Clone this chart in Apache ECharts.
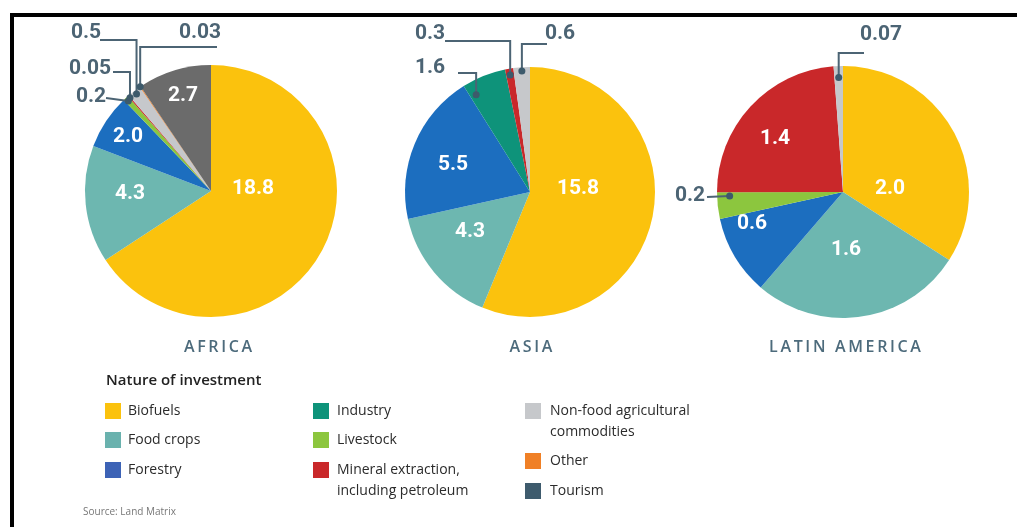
<!DOCTYPE html>
<html>
<head>
<meta charset="utf-8">
<script src="https://cdn.jsdelivr.net/npm/echarts@6/dist/echarts.min.js"></script>
<style>
html,body{margin:0;padding:0;background:#fff;}
#chart{width:1017px;height:527px;}
</style>
</head>
<body>
<div id="chart"></div>
<script>
// ---------------- DATA ----------------
const categories = ['Biofuels', 'Food crops', 'Forestry', 'Industry', 'Livestock',
  'Mineral extraction,\nincluding petroleum', 'Non-food agricultural\ncommodities', 'Other', 'Tourism'];
const regions = ['AFRICA', 'ASIA', 'LATIN AMERICA'];

const africaNames = ['Biofuels', 'Food crops', 'Forestry', 'Livestock',
  'Mineral extraction,\nincluding petroleum', 'Non-food agricultural\ncommodities', 'Other', 'Unspecified'];
const africaValues = [18.8, 4.3, 2.0, 0.2, 0.05, 0.5, 0.03, 2.7];

const asiaNames = ['Biofuels', 'Food crops', 'Forestry', 'Industry',
  'Mineral extraction,\nincluding petroleum', 'Non-food agricultural\ncommodities'];
const asiaValues = [15.8, 4.3, 5.5, 1.6, 0.3, 0.6];

const latinNames = ['Biofuels', 'Food crops', 'Forestry', 'Livestock',
  'Mineral extraction,\nincluding petroleum', 'Non-food agricultural\ncommodities'];
const latinValues = [2.0, 1.6, 0.6, 0.2, 1.4, 0.07];

const sourceNote = 'Source: Land Matrix';
const legendTitle = 'Nature of investment';

// ---------------- STYLES / LAYOUT ----------------
const pieColors = {
  'Biofuels': '#fbc20d',
  'Food crops': '#6db7b0',
  'Forestry': '#1c6ebf',
  'Industry': '#0e937a',
  'Livestock': '#8cc63e',
  'Mineral extraction,\nincluding petroleum': '#c9282a',
  'Non-food agricultural\ncommodities': '#c6c8cb',
  'Other': '#f08026',
  'Tourism': '#3e5b6d',
  'Unspecified': '#6b6b6b'
};
const legendColors = Object.assign({}, pieColors, { 'Forestry': '#3d63b6', 'Food crops': '#6ab2ae' });

const pies = [
  { names: africaNames, values: africaValues, center: [211, 191], r: 126 },
  { names: asiaNames, values: asiaValues, center: [530, 192], r: 125 },
  { names: latinNames, values: latinValues, center: [843, 192], r: 126 }
];

// label placement per pie, keyed by data index
// inside: {x,y}; outside: {x,y, rf (dot radius fraction), af (dot position within slice), ly (elbow y or null), ex (line end x)}
const labelSpec = [
  {
    0: { x: 253, y: 189 }, 1: { x: 130, y: 194 }, 2: { x: 128, y: 137 }, 7: { x: 183, y: 96 },
    3: { x: 91, y: 97, rf: 0.97, af: 0.5, ly: null, ex: 106 },
    4: { x: 90, y: 69, rf: 0.98, af: 0.5, ly: 72, ex: 113 },
    5: { x: 86, y: 33, rf: 0.97, af: 0.5, ly: 40, ex: 100 },
    6: { x: 200, y: 33, rf: 1.0, af: 0.5, ly: 47, ex: 217 }
  },
  {
    0: { x: 578, y: 189 }, 1: { x: 470, y: 232 }, 2: { x: 453, y: 165 },
    3: { x: 430, y: 68, rf: 0.89, af: 0.15, ly: 73, ex: 458 },
    4: { x: 430, y: 34, rf: 0.95, af: 0.5, ly: 41, ex: 445 },
    5: { x: 560, y: 34, rf: 0.97, af: 0.5, ly: 44, ex: 547 }
  },
  {
    0: { x: 890, y: 189 }, 1: { x: 846, y: 250 }, 2: { x: 752, y: 224 }, 4: { x: 775, y: 139 },
    3: { x: 690, y: 196, rf: 0.9, af: 0.85, ly: null, ex: 707 },
    5: { x: 881, y: 35, rf: 0.91, af: 0.5, ly: 53, ex: 864 }
  }
];

const numFont = 'Roboto, "Liberation Sans Narrow", sans-serif';
const textFont = '"Open Sans", "Noto Sans", sans-serif';
const leaderColor = '#4c6474';
const dotColor = '#3d5a6b';

function fmt(v) { return v < 0.1 ? v.toFixed(2) : v.toFixed(1); }

function anglePos(p, idx, af) {
  let cum = 0;
  for (let i = 0; i < idx; i++) cum += p.values[i];
  return cum + p.values[idx] * af;
}

const series = [];
const polar = [], angleAxis = [], radiusAxis = [];

pies.forEach((p, pi) => {
  const spec = labelSpec[pi];
  const total = p.values.reduce((a, b) => a + b, 0);
  const data = p.values.map((v, i) => {
    const s = spec[i];
    const isOut = s && s.rf !== undefined;
    return {
      value: v,
      name: p.names[i],
      itemStyle: { color: pieColors[p.names[i]] },
      label: isOut ? { position: 'outside', color: leaderColor } : { position: 'inside', color: '#ffffff' }
    };
  });
  series.push({
    type: 'pie',
    center: p.center,
    radius: [0, p.r],
    startAngle: 90,
    clockwise: true,
    avoidLabelOverlap: false,
    animation: false,
    silent: true,
    data: data,
    label: {
      show: true,
      formatter: (prm) => fmt(prm.value),
      fontFamily: numFont,
      fontWeight: 'bold',
      fontSize: 21
    },
    labelLine: { show: false },
    labelLayout: function (prm) {
      const s = spec[prm.dataIndex];
      if (!s) return { hide: true };
      return { x: s.x, y: s.y, align: 'center', verticalAlign: 'middle' };
    }
  });

  // polar system aligned with the pie for the leader lines and dots
  polar.push({ center: p.center, radius: p.r });
  angleAxis.push({ polarIndex: pi, type: 'value', min: 0, max: total, startAngle: 90, clockwise: true, show: false });
  radiusAxis.push({ polarIndex: pi, type: 'value', min: 0, max: 1, show: false });
  const leaders = [];
  Object.keys(spec).forEach(k => {
    const s = spec[k];
    if (s.rf !== undefined) leaders.push([s.rf, anglePos(p, +k, s.af), +k]);
  });
  series.push({
    type: 'custom',
    coordinateSystem: 'polar',
    polarIndex: pi,
    data: leaders,
    silent: true,
    animation: false,
    z: 10,
    renderItem: function (params, api) {
      const d = api.coord([api.value(0), api.value(1)]);
      const s = spec[api.value(2)];
      const pts = s.ly === null
        ? [d, [s.ex, s.y + 1]]
        : [d, [d[0], s.ly], [s.ex, s.ly]];
      return {
        type: 'group',
        children: [
          { type: 'polyline', shape: { points: pts }, style: { stroke: leaderColor, lineWidth: 2, fill: null } },
          { type: 'circle', shape: { cx: d[0], cy: d[1], r: 3.5 }, style: { fill: dotColor } }
        ]
      };
    }
  });
});

// ---------------- GRAPHICS (frame, titles, legend) ----------------
const graphic = [];
graphic.push({ type: 'rect', shape: { x: 10, y: 13, width: 1007, height: 4 }, style: { fill: '#000' }, silent: true });
graphic.push({ type: 'rect', shape: { x: 10, y: 13, width: 4, height: 514 }, style: { fill: '#000' }, silent: true });

const regionTitleX = [218, 531, 845];
regions.forEach((t, i) => {
  graphic.push({
    type: 'text', x: regionTitleX[i], y: 347,
    style: {
      text: t.split('').join('\u2009'), fill: '#4d6b7c', font: '600 16px ' + textFont,
      textAlign: 'center', textVerticalAlign: 'middle'
    }, silent: true
  });
});

graphic.push({
  type: 'text', x: 106, y: 381,
  style: { text: legendTitle, fill: '#222', font: '600 15px ' + textFont, textAlign: 'left', textVerticalAlign: 'middle' }
});

const legendCols = [{ sx: 105, tx: 128 }, { sx: 313, tx: 337 }, { sx: 525, tx: 550 }];
const legendRows = [[411, 440, 470], [411, 440, 470], [411, 461, 491]];
categories.forEach((c, i) => {
  const col = Math.floor(i / 3), row = i % 3;
  const yc = legendRows[col][row];
  graphic.push({ type: 'rect', shape: { x: legendCols[col].sx, y: yc - 8, width: 16, height: 16 }, style: { fill: legendColors[c] }, silent: true });
  graphic.push({
    type: 'text', x: legendCols[col].tx, y: yc - 10,
    style: { text: c, fill: '#2b2b2b', font: '14px ' + textFont, textAlign: 'left', textVerticalAlign: 'top', lineHeight: 21 },
    silent: true
  });
});

graphic.push({
  type: 'text', x: 83, y: 512,
  style: { text: sourceNote, fill: '#777', font: '10px ' + textFont, textAlign: 'left', textVerticalAlign: 'middle' }
});

const chart = echarts.init(document.getElementById('chart'), null, { renderer: 'canvas' });
chart.setOption({
  backgroundColor: '#ffffff',
  animation: false,
  polar: polar,
  angleAxis: angleAxis,
  radiusAxis: radiusAxis,
  series: series,
  graphic: graphic
});
</script>
</body>
</html>
